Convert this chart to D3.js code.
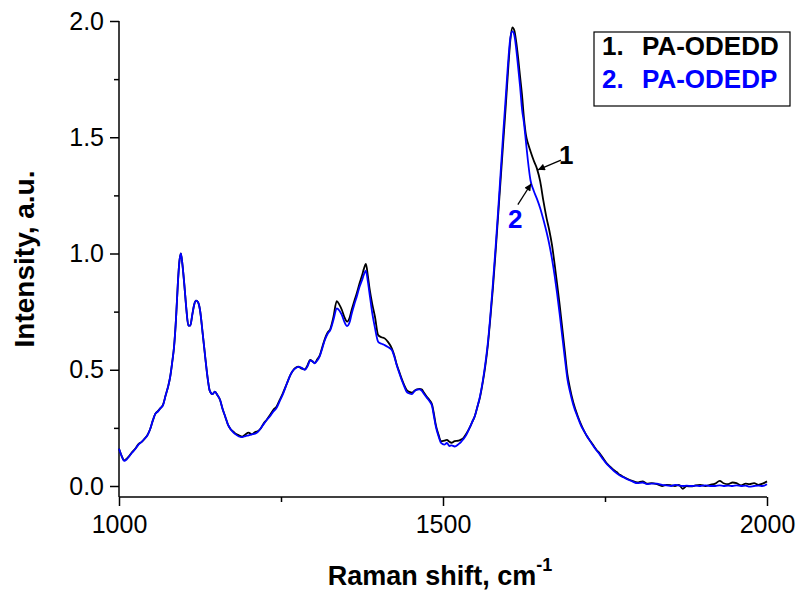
<!DOCTYPE html>
<html>
<head>
<meta charset="utf-8">
<script src="https://cdn.jsdelivr.net/npm/d3@7"></script>
<style>
  html, body { margin: 0; padding: 0; background: #fff; }
  svg { display: block; font-family: "Liberation Sans", Arial, sans-serif; }
</style>
</head>
<body>
<svg id="chart" width="799" height="592"></svg>
<script>
// ---- data ----
const wavenumber = [1000,1004,1008,1012,1016,1020,1025,1030,1035,1040,1044,1048,1052,1056,1060,1064,1068,1072,1076,1079,1082,1085,1088,1091,1093,1095.5,1098,1101,1104,1107,1110,1113,1116,1119,1122,1125,1129,1133,1137,1140,1144,1148,1152,1156,1160,1164,1168,1172,1176,1180,1185,1190,1195,1200,1205,1210,1214,1218,1223,1228,1233,1238,1243,1248,1253,1259,1264,1268,1273,1277,1282,1287,1291,1295,1299,1302,1306,1310,1314,1318,1322,1326,1331,1336,1340,1344,1348,1352,1356,1359,1363,1367,1371,1375,1378,1381,1384,1387,1391,1395,1400,1405,1410,1415,1421,1425,1428,1432,1436,1440,1444,1448,1452,1456,1460,1464,1467,1471,1475,1479,1483,1486,1489,1493,1497,1502,1506,1510,1513,1518,1524,1528,1531,1536,1541,1545,1549,1553,1557,1561,1565,1569,1573,1577,1581,1585,1589,1593,1597,1601,1604,1607,1610,1613,1616,1619,1622,1625,1628,1631,1635,1640,1645,1650,1655,1660,1664,1668,1672,1676,1680,1684,1688,1692,1696,1701,1708,1713,1717,1722,1727,1732,1737,1742,1747,1752,1758,1763,1768,1773,1778,1785,1792,1800,1808,1815,1822,1830,1838,1845,1852,1858,1864,1870,1876,1883,1890,1897,1905,1912,1920,1927,1933,1940,1947,1953,1960,1967,1973,1980,1987,1993,2000];

const odedd = [0.16,0.13,0.11,0.118,0.13,0.145,0.16,0.18,0.19,0.205,0.22,0.244,0.28,0.31,0.322,0.335,0.35,0.39,0.43,0.47,0.53,0.6,0.72,0.88,0.96,1.0,0.95,0.86,0.76,0.69,0.69,0.735,0.78,0.797,0.79,0.757,0.66,0.556,0.46,0.41,0.395,0.406,0.39,0.37,0.33,0.298,0.265,0.245,0.235,0.225,0.218,0.212,0.222,0.23,0.222,0.232,0.235,0.245,0.268,0.285,0.305,0.327,0.341,0.37,0.4,0.44,0.475,0.495,0.51,0.513,0.505,0.502,0.52,0.542,0.535,0.53,0.545,0.563,0.6,0.635,0.66,0.675,0.728,0.795,0.78,0.757,0.725,0.707,0.725,0.757,0.795,0.83,0.87,0.905,0.935,0.955,0.905,0.843,0.78,0.728,0.649,0.64,0.635,0.62,0.592,0.56,0.528,0.495,0.463,0.435,0.413,0.405,0.401,0.41,0.416,0.418,0.416,0.4,0.384,0.37,0.352,0.31,0.262,0.222,0.192,0.195,0.198,0.19,0.186,0.193,0.195,0.2,0.205,0.225,0.25,0.275,0.30,0.34,0.38,0.44,0.51,0.6,0.72,0.85,1.0,1.16,1.32,1.48,1.64,1.81,1.92,1.973,1.96,1.91,1.84,1.76,1.68,1.58,1.51,1.475,1.44,1.40,1.365,1.31,1.225,1.15,1.10,1.04,0.96,0.872,0.78,0.68,0.58,0.48,0.42,0.36,0.30,0.265,0.24,0.215,0.195,0.175,0.155,0.14,0.12,0.1,0.083,0.07,0.06,0.048,0.04,0.03,0.022,0.015,0.02,0.01,0.012,0.008,0.0,0.005,0.003,0.0,0.005,-0.012,0.0,-0.002,0.003,0.005,0.0,0.005,0.01,0.022,0.012,0.008,0.015,0.012,0.003,0.01,0.008,0.012,0.005,0.01,0.02];

const odedp = [0.16,0.13,0.108,0.115,0.128,0.143,0.158,0.178,0.19,0.205,0.218,0.244,0.28,0.31,0.32,0.335,0.348,0.39,0.43,0.47,0.53,0.6,0.72,0.88,0.96,1.0,0.95,0.86,0.76,0.69,0.69,0.735,0.78,0.797,0.79,0.757,0.66,0.556,0.46,0.41,0.395,0.406,0.39,0.37,0.33,0.298,0.265,0.245,0.232,0.222,0.213,0.21,0.215,0.218,0.222,0.225,0.232,0.245,0.265,0.284,0.3,0.32,0.335,0.365,0.395,0.44,0.475,0.495,0.508,0.512,0.508,0.5,0.515,0.54,0.535,0.528,0.54,0.56,0.595,0.63,0.655,0.67,0.715,0.764,0.755,0.735,0.705,0.688,0.705,0.74,0.78,0.815,0.855,0.885,0.91,0.926,0.88,0.82,0.74,0.68,0.62,0.612,0.606,0.598,0.585,0.555,0.525,0.49,0.458,0.43,0.405,0.398,0.395,0.408,0.415,0.416,0.41,0.395,0.38,0.365,0.345,0.3,0.255,0.215,0.185,0.178,0.185,0.172,0.175,0.17,0.18,0.19,0.2,0.22,0.25,0.275,0.30,0.34,0.385,0.445,0.52,0.61,0.73,0.87,1.02,1.18,1.35,1.52,1.68,1.84,1.93,1.955,1.94,1.88,1.80,1.717,1.62,1.56,1.48,1.40,1.315,1.27,1.235,1.195,1.145,1.09,1.04,0.98,0.91,0.83,0.74,0.645,0.55,0.46,0.405,0.35,0.295,0.26,0.24,0.215,0.193,0.172,0.153,0.135,0.115,0.097,0.08,0.066,0.055,0.045,0.038,0.028,0.02,0.012,0.015,0.008,0.01,0.01,0.005,0.003,0.0,0.005,0.002,0.0,0.002,0.0,0.002,0.0,0.003,0.0,0.0,0.003,0.0,0.002,0.0,0.003,0.0,0.002,-0.003,0.0,0.002,0.0,0.008];

const seriesNames = ["1.", "2."];
const seriesLabels = ["PA-ODEDD", "PA-ODEDP"];
const seriesColors = ["#000000", "#0000ff"];

const xMajorTicks = [1000, 1500, 2000];
const xMinorTicks = [1250, 1750];
const yMajorTicks = [0.0, 0.5, 1.0, 1.5, 2.0];
const yMinorTicks = [0.25, 0.75, 1.25, 1.75];

const xTitle = "Raman shift, cm";
const xTitleSup = "-1";
const yTitle = "Intensity, a.u.";

// annotation arrows in data coordinates: label, label position, arrow tail, arrow tip
const annotations = [
  { text: "1", color: "#000000", lx: 1679, ly: 1.385, x1: 1682, y1: 1.402, x2: 1646.5, y2: 1.36 },
  { text: "2", color: "#0000ff", lx: 1600.5, ly: 1.11, x1: 1615.5, y1: 1.21, x2: 1636, y2: 1.30 }
];

// ---- drawing ----
const svg = d3.select("#chart");
svg.append("rect").attr("width", 799).attr("height", 592).attr("fill", "#fff");

const x = d3.scaleLinear().domain([1000, 2000]).range([119, 767]);
const y = d3.scaleLinear().domain([-0.0473, 2.0]).range([497, 21]);

const font = "'Liberation Sans', Arial, sans-serif";

// axes
const xAxis = d3.axisBottom(x).tickValues(xMajorTicks).tickSize(9).tickPadding(9).tickFormat(d3.format("d"));
const xAxisMinor = d3.axisBottom(x).tickValues(xMinorTicks).tickSize(5).tickFormat("");
const yAxis = d3.axisLeft(y).tickValues(yMajorTicks).tickSize(9).tickPadding(6).tickFormat(d3.format(".1f"));
const yAxisMinor = d3.axisLeft(y).tickValues(yMinorTicks).tickSize(5).tickFormat("");

function styleAxis(g) {
  g.selectAll("path.domain").remove();
  g.selectAll("line").attr("stroke", "#000").attr("stroke-width", 1.5);
  g.selectAll("text").attr("font-family", font).attr("font-size", 25).attr("fill", "#000");
}

const gx = svg.append("g").attr("transform", "translate(0,497)").call(xAxis).call(styleAxis);
gx.selectAll("text").attr("dy", "0.71em");
svg.append("g").attr("transform", "translate(0,497)").call(xAxisMinor).call(styleAxis);
const gy = svg.append("g").attr("transform", "translate(119,0)").call(yAxis).call(styleAxis);
svg.append("g").attr("transform", "translate(119,0)").call(yAxisMinor).call(styleAxis);

// axis lines
svg.append("line").attr("x1", 119).attr("x2", 767).attr("y1", 497).attr("y2", 497)
  .attr("stroke", "#000").attr("stroke-width", 1.5);
svg.append("line").attr("x1", 119).attr("x2", 119).attr("y1", 21).attr("y2", 497)
  .attr("stroke", "#000").attr("stroke-width", 1.5);

// series
const line = d3.line().x(d => x(d[0])).y(d => y(d[1])).curve(d3.curveMonotoneX);
const s1 = wavenumber.map((w, i) => [w, odedd[i]]);
const s2 = wavenumber.map((w, i) => [w, odedp[i]]);
svg.append("path").attr("d", line(s1)).attr("fill", "none").attr("stroke", seriesColors[0]).attr("stroke-width", 1.8).attr("stroke-linejoin", "round");
svg.append("path").attr("d", line(s2)).attr("fill", "none").attr("stroke", seriesColors[1]).attr("stroke-width", 1.8).attr("stroke-linejoin", "round");

// axis titles
const xt = svg.append("text").attr("x", 440).attr("y", 585).attr("text-anchor", "middle")
  .attr("font-family", font).attr("font-weight", "bold").attr("font-size", 27).attr("fill", "#000");
xt.append("tspan").text(xTitle);
xt.append("tspan").attr("font-size", 18).attr("dy", -14).text(xTitleSup);

svg.append("text").attr("transform", "translate(34,259) rotate(-90)").attr("text-anchor", "middle")
  .attr("font-family", font).attr("font-weight", "bold").attr("font-size", 28).attr("fill", "#000")
  .text(yTitle);

// legend
svg.append("rect").attr("x", 594).attr("y", 32).attr("width", 196).attr("height", 74)
  .attr("fill", "#fff").attr("stroke", "#000").attr("stroke-width", 1.2);
seriesLabels.forEach((lab, i) => {
  const by = 55 + i * 33;
  svg.append("text").attr("x", 602).attr("y", by).attr("font-family", font).attr("font-weight", "bold")
    .attr("font-size", 26).attr("fill", seriesColors[i]).text(seriesNames[i]);
  svg.append("text").attr("x", 642).attr("y", by).attr("font-family", font).attr("font-weight", "bold")
    .attr("font-size", 26).attr("fill", seriesColors[i]).text(lab);
});

// arrows
const defs = svg.append("defs");
defs.append("marker").attr("id", "ah").attr("viewBox", "0 0 10 10").attr("refX", 10).attr("refY", 5)
  .attr("markerWidth", 10).attr("markerHeight", 7).attr("markerUnits", "userSpaceOnUse").attr("orient", "auto")
  .append("path").attr("d", "M0,0 L10,5 L0,10 Z").attr("fill", "#000");

annotations.forEach(a => {
  svg.append("line").attr("x1", x(a.x1)).attr("y1", y(a.y1)).attr("x2", x(a.x2)).attr("y2", y(a.y2))
    .attr("stroke", "#000").attr("stroke-width", 1.3).attr("marker-end", "url(#ah)");
  svg.append("text").attr("x", x(a.lx)).attr("y", y(a.ly)).attr("font-family", font).attr("font-weight", "bold")
    .attr("font-size", 26).attr("fill", a.color).text(a.text);
});
</script>
</body>
</html>
